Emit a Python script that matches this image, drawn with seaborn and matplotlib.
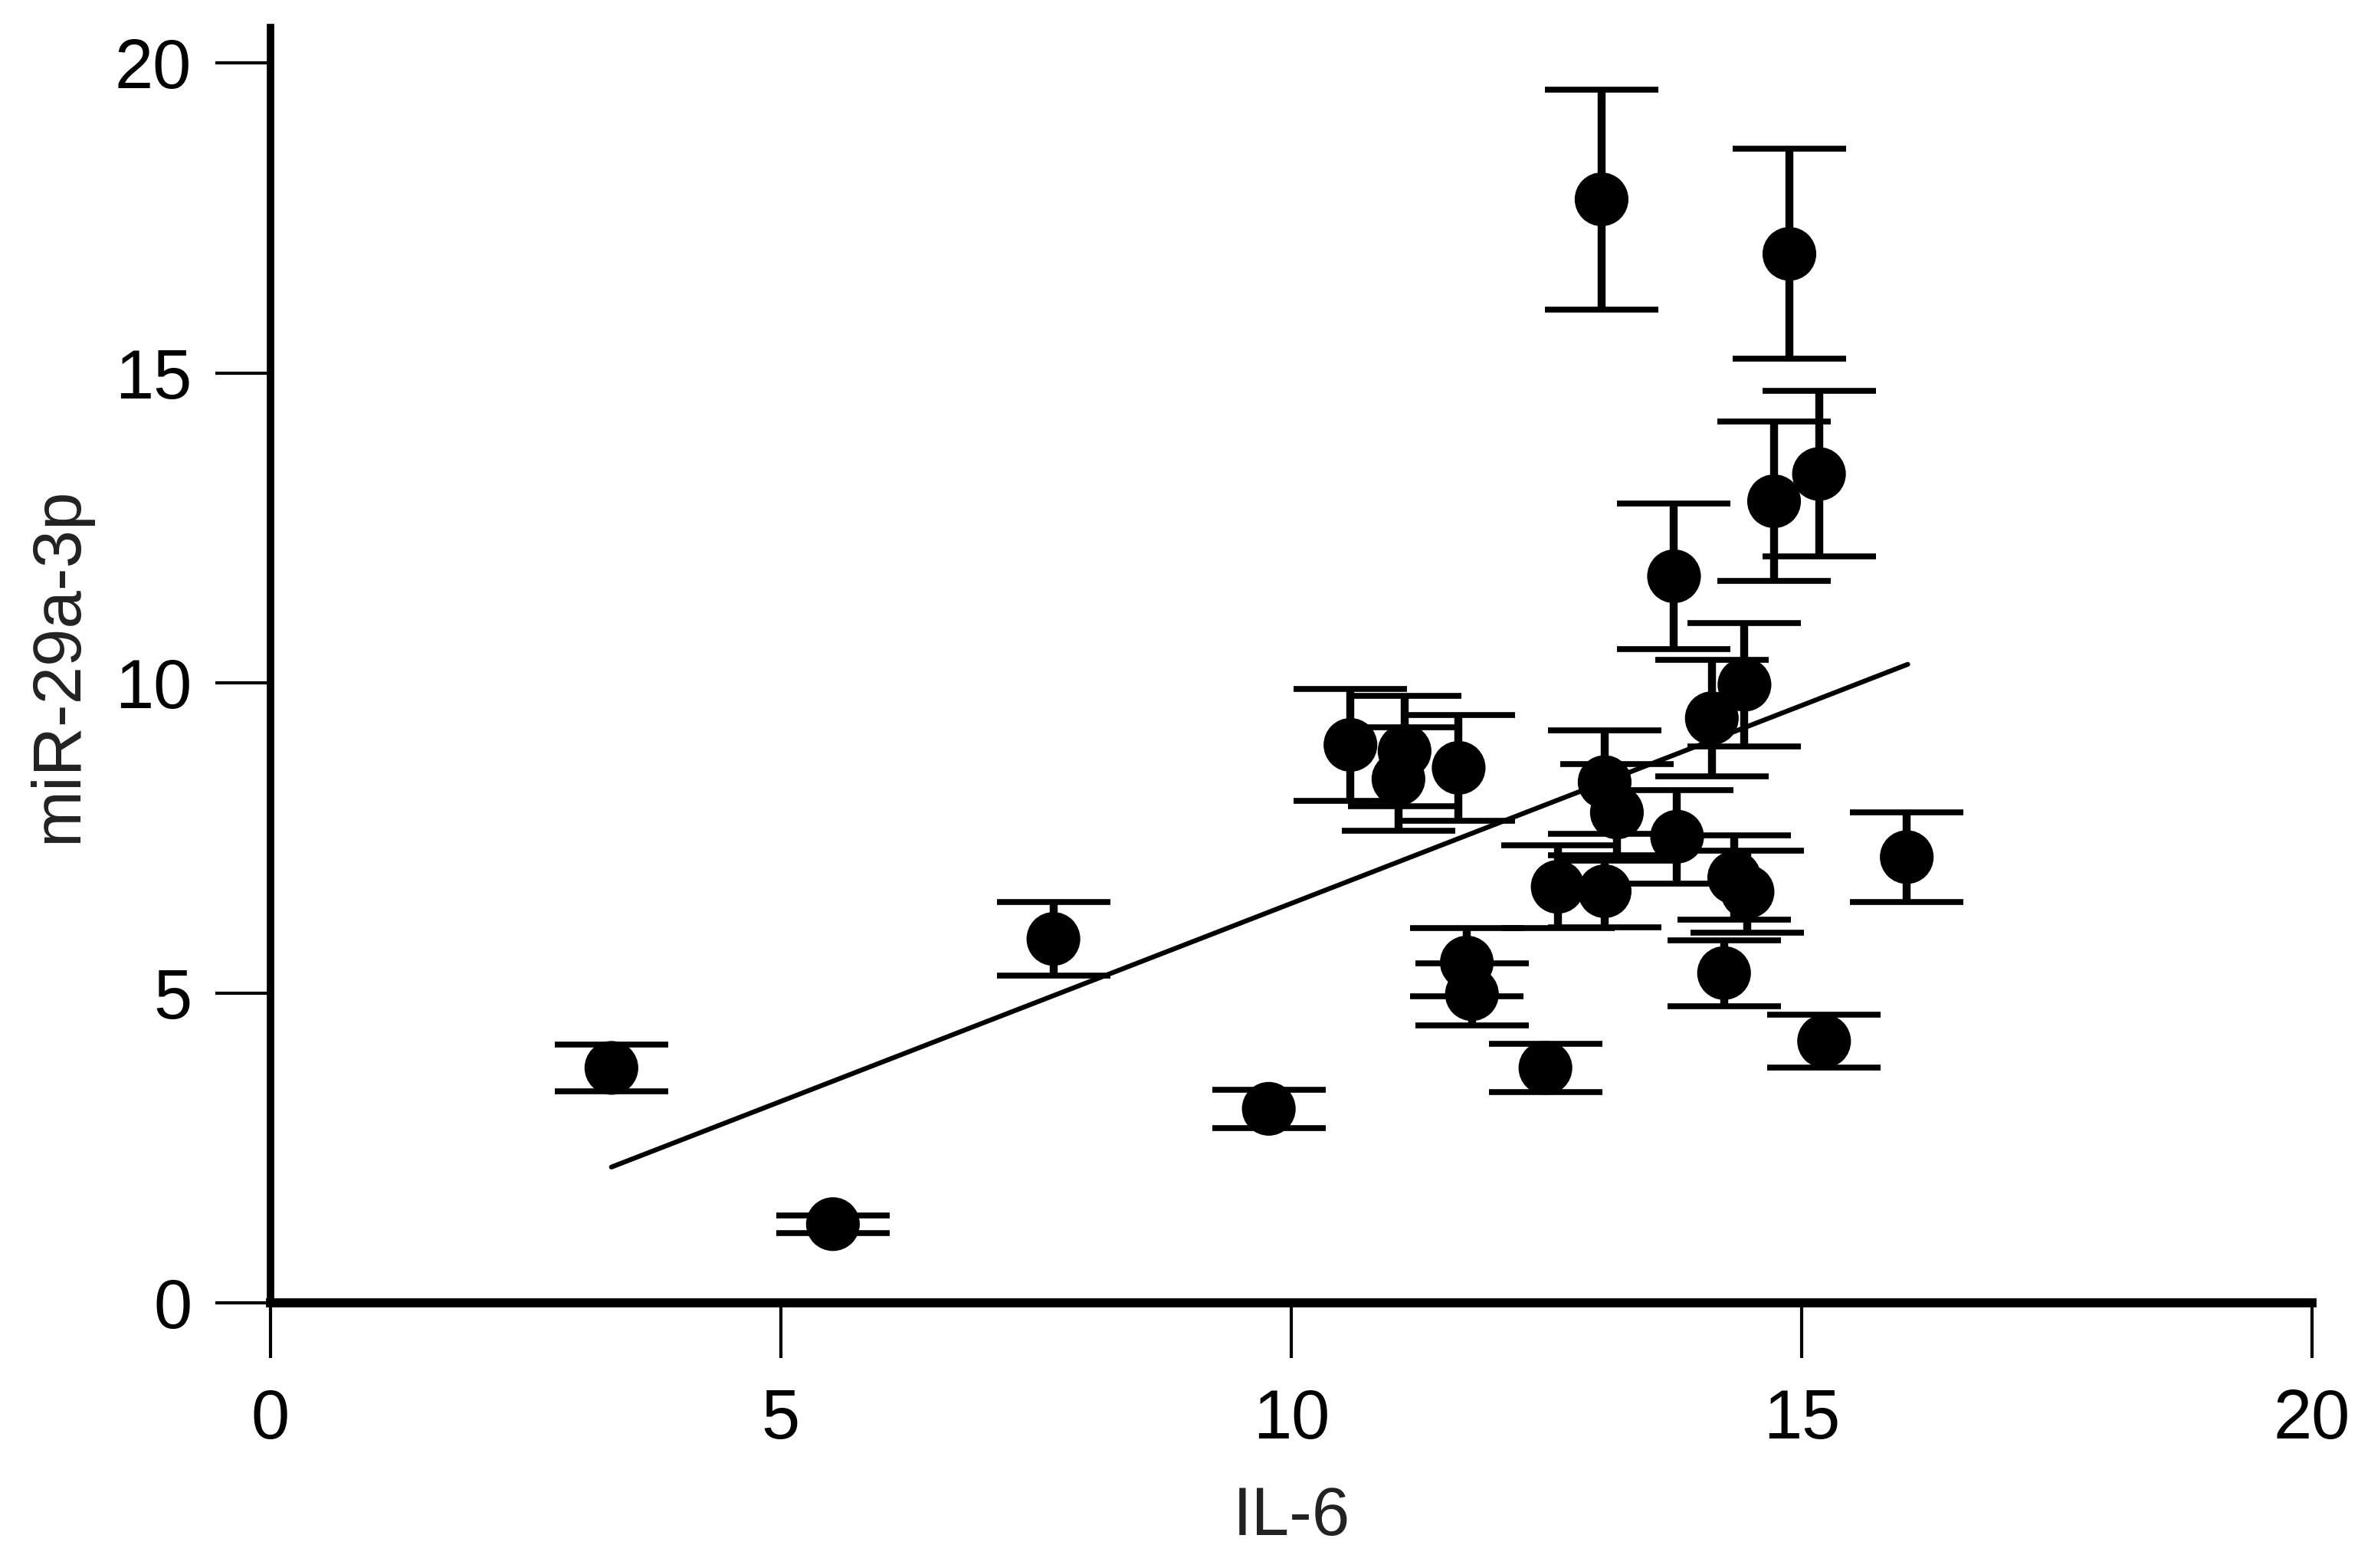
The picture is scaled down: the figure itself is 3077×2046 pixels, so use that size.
import numpy as np
import pandas as pd
import seaborn as sns
import matplotlib.pyplot as plt

# values
il6 = [3.34, 5.51, 7.67, 9.78, 10.58, 11.11, 11.05, 11.64, 11.72, 11.77,
       12.49, 12.61, 13.07, 13.07, 13.19, 13.04, 13.75, 13.78, 14.12, 14.24,
       14.34, 14.44, 14.47, 14.73, 14.88, 15.17, 15.22, 16.03]
mir = [3.79, 1.27, 5.87, 3.13, 9.00, 8.90, 8.45, 8.63, 5.49, 4.98,
       3.79, 6.71, 8.40, 6.64, 7.91, 17.80, 11.72, 7.52, 9.43, 5.32,
       6.86, 9.97, 6.63, 12.93, 16.92, 13.37, 4.22, 7.19]
mir_err = [0.375, 0.14, 0.595, 0.31, 0.90, 0.89, 0.84, 0.855, 0.55, 0.50,
           0.385, 0.67, 0.84, 0.58, 0.78, 1.775, 1.175, 0.755, 0.94, 0.53,
           0.685, 0.99, 0.66, 1.29, 1.695, 1.335, 0.425, 0.725]

# fitted line end points
fit_x = [3.34, 16.04]
fit_y = [2.19, 10.30]

ticks = [0, 5, 10, 15, 20]

df = pd.DataFrame({'IL-6': il6, 'miR-29a-3p': mir, 'err': mir_err})

sns.set_style('ticks')
plt.rcParams['font.family'] = ['Liberation Sans', 'DejaVu Sans']

fig = plt.figure(figsize=(30.77, 20.46), dpi=100)
ax = fig.add_axes([0.1147, 0.1691, 0.8658, 0.8133])

ax.errorbar(df['IL-6'], df['miR-29a-3p'], yerr=df['err'], fmt='none',
            ecolor='black', elinewidth=7.5, capsize=53, capthick=5.5, zorder=2)
sns.lineplot(x=fit_x, y=fit_y, ax=ax, color='black', linewidth=4.5, zorder=2.5)
sns.scatterplot(data=df, x='IL-6', y='miR-29a-3p', ax=ax, s=2550,
                color='black', edgecolor='none', zorder=3)

ax.set_xlim(0, 20)
ax.set_ylim(0, 20.57)
ax.set_xticks(ticks)
ax.set_yticks(ticks)

for side in ['top', 'right']:
    ax.spines[side].set_visible(False)
ax.spines['left'].set_linewidth(7)
ax.spines['bottom'].set_linewidth(8.5)
ax.spines['left'].set_color('black')
ax.spines['bottom'].set_color('black')

ax.tick_params(axis='both', length=52, width=3, labelsize=65, colors='black')
ax.tick_params(axis='y', pad=22)
ax.tick_params(axis='x', pad=28)

ax.set_xlabel('IL-6', fontsize=64, labelpad=30, color='#222222')
ax.set_ylabel('miR-29a-3p', fontsize=64, labelpad=22, color='#222222')

fig.savefig('out.png', dpi=100)
